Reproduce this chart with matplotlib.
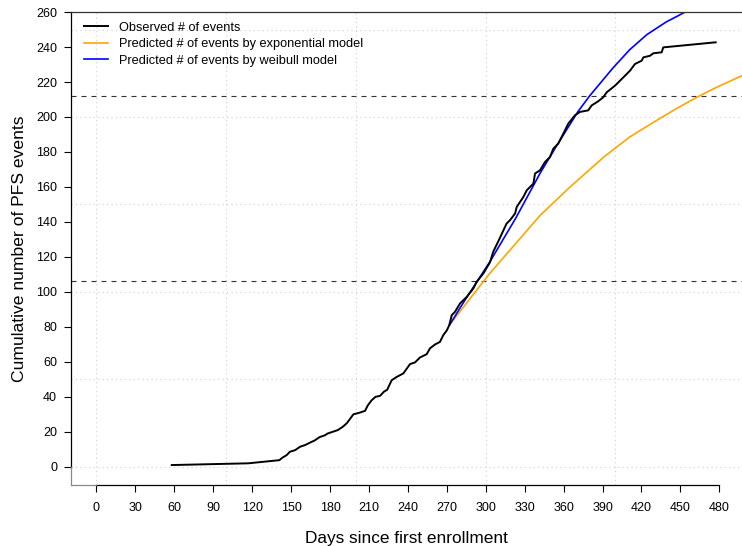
import matplotlib
matplotlib.use("Agg")
import matplotlib.pyplot as plt

plt.rcParams['font.family'] = ['Liberation Sans', 'DejaVu Sans']

# Observed cumulative PFS events
obs_days = [58, 117, 141, 143, 146.6, 149, 153, 157, 161, 165, 168, 172, 176, 178,
            182, 186, 190, 193, 195, 198, 203, 207, 209, 212, 215, 218.6, 221.6, 224,
            227.5, 231.4, 236.5, 239, 241.6, 245.5, 249.3, 254.5, 257, 261, 264.7,
            267.3, 270, 271.9, 273.8, 276.3, 280.2, 285.3, 290.4, 293, 298.1, 303.3,
            305.8, 311, 316, 318.7, 322.6, 323.9, 329, 331.6, 336.7, 338, 341.8, 345.7,
            349.5, 352.1, 355.9, 359.8, 363.6, 368.8, 372.6, 379, 381.6, 386.7, 390.6,
            393.2, 399.6, 406, 411.2, 415, 420.2, 421.5, 426.6, 429.1, 435.6, 436.8,
            477.2]
obs_events = [1, 2, 3.8, 5.1, 6.7, 8.6, 9.5, 11.5, 12.5, 14, 15, 17, 18, 19,
              20, 21, 23, 25, 27, 30, 31, 32, 35, 38, 40, 40.6, 43, 44,
              49.5, 51.4, 53.4, 56, 58.7, 59.7, 62.5, 64.4, 67.7, 70, 71.4,
              75.3, 78, 81, 86.7, 88.6, 93.4, 97.1, 101.9, 105.7, 110.5, 117,
              123, 131, 139, 141, 144.8, 148.6, 154.3, 158.1, 161.9, 167.7, 169.5, 174.3,
              177.1, 181.9, 184.8, 190.5, 196.2, 201, 202.9, 203.8, 206.6, 209, 211.3,
              214.1, 217.9, 222.6, 226.5, 230.3, 232.2, 234.1, 235, 236.4, 237, 239.8,
              242.7]

# Predicted events, exponential model
exp_days = [272, 285, 303, 318.6, 342, 365, 391, 411, 432, 447, 463, 478, 498]
exp_events = [81, 93.4, 110.5, 123.8, 143.8, 160, 177.1, 188.6, 198.2, 204.8, 211.4,
              217, 223.8]

# Predicted events, Weibull model
wei_days = [272, 285, 303, 323, 342, 355, 371, 380, 398, 411, 424, 439, 455, 475, 497]
wei_events = [81, 96.5, 117, 142, 168, 184, 203, 212, 228, 238.5, 247, 254.3, 260.5,
              267.5, 274]

# Reference event counts
ref_levels = [106, 212]

x_ticks = list(range(0, 481, 30))
y_ticks = list(range(0, 261, 20))

fig = plt.figure(figsize=(7.42, 5.46), dpi=100)
ax = fig.add_axes([71 / 742, (546 - 485) / 546, 1 - 71 / 742, (485 - 11.7) / 546])

xlo, xhi = -19.65, 497.5
ylo, yhi = -10.4, 260.2
ax.set_xlim(xlo, xhi)
ax.set_ylim(ylo, yhi)

# light dotted grid
for gx in range(0, 500, 100):
    ax.axvline(gx, color='#d0d0d0', lw=0.8, ls=(0, (1, 3)), zorder=0)
for gy in range(0, 260, 50):
    ax.axhline(gy, color='#d0d0d0', lw=0.8, ls=(0, (1, 3)), zorder=0)

for lvl in ref_levels:
    ax.axhline(lvl, color='#333333', lw=0.8, ls=(0, (4.5, 4.5)), zorder=1)

ax.plot(obs_days, obs_events, color='black', lw=1.4, label='Observed # of events', zorder=3)
ax.plot(exp_days, exp_events, color='orange', lw=1.2,
        label='Predicted # of events by exponential model', zorder=2)
ax.plot(wei_days, wei_events, color='blue', lw=1.2,
        label='Predicted # of events by weibull model', zorder=2)

# box and axes
ax.spines['right'].set_visible(False)
ax.spines['top'].set_color('#333333')
ax.spines['top'].set_linewidth(0.9)
for s in ('left', 'bottom'):
    ax.spines[s].set_linewidth(0.9)
    ax.spines[s].set_color('black')
ax.spines['left'].set_bounds(0, 260)
ax.spines['bottom'].set_bounds(0, 480)
# grey box segments outside the axis ranges
ax.plot([xlo, xlo], [ylo, 0], color='#888888', lw=0.9, clip_on=False, zorder=4)
ax.plot([xlo, 0], [ylo, ylo], color='#888888', lw=0.9, clip_on=False, zorder=4)

ax.set_xticks(x_ticks)
ax.set_yticks(y_ticks)
ax.tick_params(direction='out', length=5, width=0.8, labelsize=9, color='black')
ax.tick_params(axis='x', pad=7)
ax.tick_params(axis='y', pad=5)

ax.set_xlabel('Days since first enrollment', fontsize=12.4, labelpad=12.5)
ax.set_ylabel('Cumulative number of PFS events', fontsize=12.6, labelpad=6.5)

ax.legend(loc='upper left', frameon=False, fontsize=9.2, handlelength=1.88,
          handletextpad=0.85, labelspacing=0.36, borderaxespad=0.0,
          bbox_to_anchor=(0.012, 0.99))

fig.savefig('out.png', dpi=100)
